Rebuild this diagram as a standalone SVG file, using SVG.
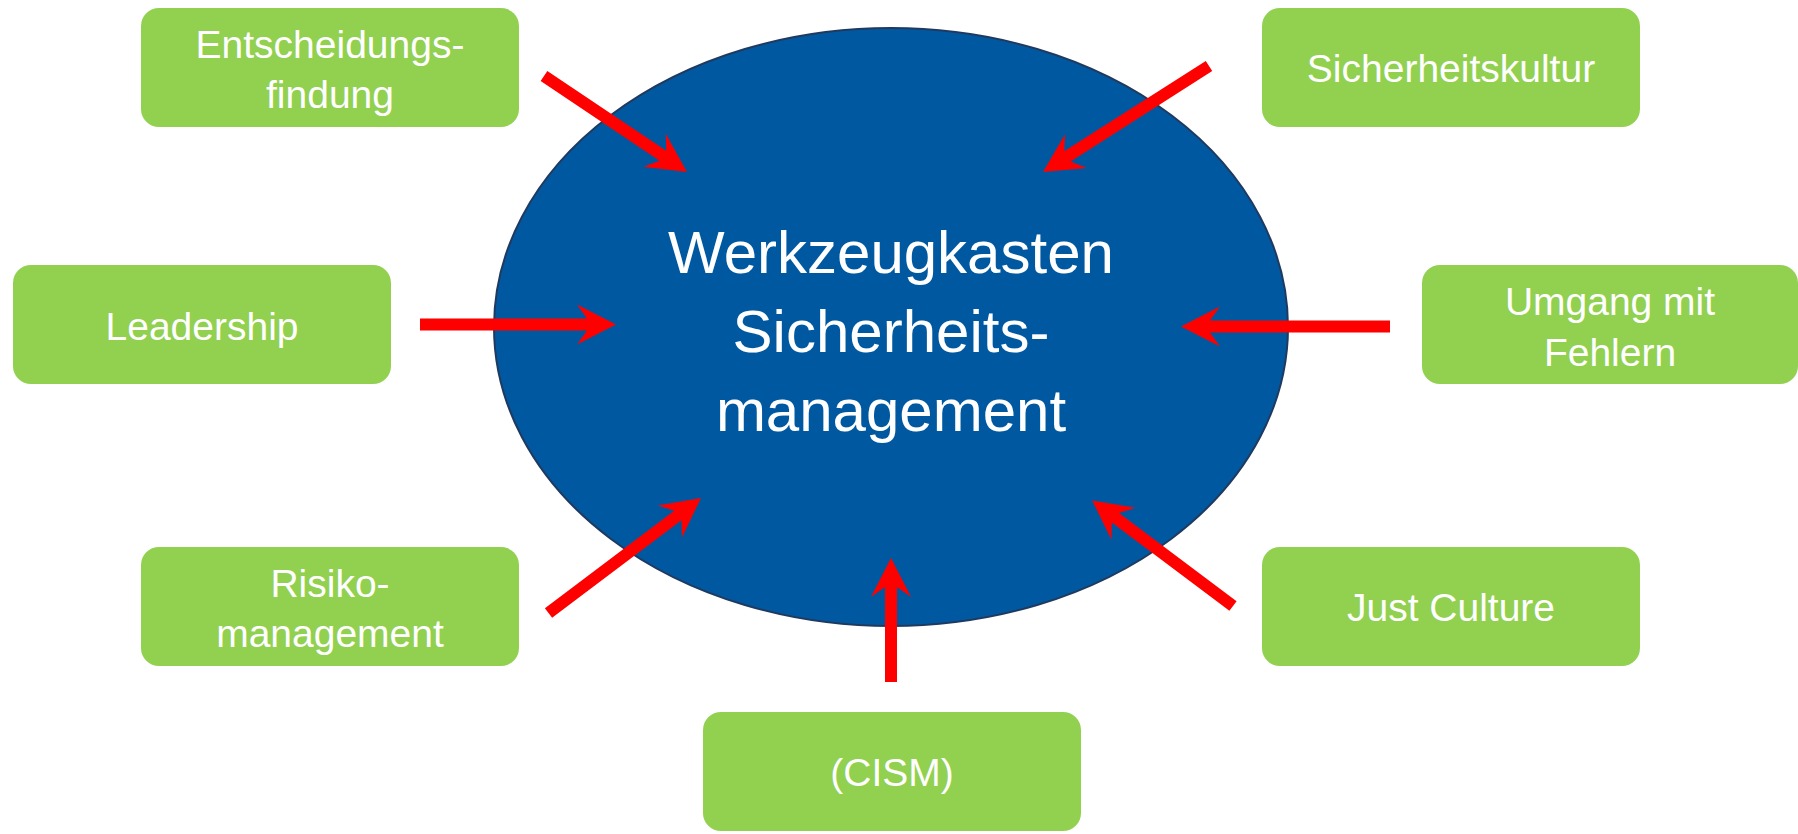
<svg xmlns="http://www.w3.org/2000/svg" width="1798" height="834" viewBox="0 0 1798 834">
<style>
.box{fill:#92D050}
.lbl{font-family:"Liberation Sans",Arial,sans-serif;font-size:39px;fill:#FFFFFF;text-anchor:middle}
.main{font-family:"Liberation Sans",Arial,sans-serif;font-size:60px;fill:#FFFFFF;text-anchor:middle}
.arr{fill:#FF0000}
</style>
<rect width="1798" height="834" fill="#FFFFFF"/>
<g id="center">
<ellipse cx="891" cy="327" rx="397" ry="299" fill="#0059A0" stroke="#1F3A60" stroke-width="2"/>
<text class="main" x="891" y="273">Werkzeugkasten</text>
<text class="main" x="891" y="352">Sicherheits-</text>
<text class="main" x="891" y="431">management</text>
</g>
<g id="n-entscheidung">
<rect class="box" x="141" y="8" width="378" height="119" rx="18"/>
<text class="lbl" x="330" y="58">Entscheidungs-</text>
<text class="lbl" x="330" y="108">findung</text>
</g>
<g id="n-sicherheitskultur">
<rect class="box" x="1262" y="8" width="378" height="119" rx="18"/>
<text class="lbl" x="1451" y="82">Sicherheitskultur</text>
</g>
<g id="n-leadership">
<rect class="box" x="13" y="265" width="378" height="119" rx="18"/>
<text class="lbl" x="202" y="340">Leadership</text>
</g>
<g id="n-umgang">
<rect class="box" x="1422" y="265" width="376" height="119" rx="18"/>
<text class="lbl" x="1610" y="315">Umgang mit</text>
<text class="lbl" x="1610" y="366">Fehlern</text>
</g>
<g id="n-risiko">
<rect class="box" x="141" y="547" width="378" height="119" rx="18"/>
<text class="lbl" x="330" y="597">Risiko-</text>
<text class="lbl" x="330" y="647">management</text>
</g>
<g id="n-justculture">
<rect class="box" x="1262" y="547" width="378" height="119" rx="18"/>
<text class="lbl" x="1451" y="621">Just Culture</text>
</g>
<g id="n-cism">
<rect class="box" x="703" y="712" width="378" height="119" rx="18"/>
<text class="lbl" x="892" y="786">(CISM)</text>
</g>
<g id="connectors">
<path class="arr" transform="translate(544,76) rotate(33.87)" d="M0,-6 H143.2 L133.2,-20 L172.2,0 L133.2,20 L143.2,6 H0 Z"/>
<path class="arr" transform="translate(1209,66) rotate(147.44)" d="M0,-6 H168 L158,-20 L197,0 L158,20 L168,6 H0 Z"/>
<path class="arr" transform="translate(420,324.5)" d="M0,-6 H167 L157,-20 L196,0 L157,20 L167,6 H0 Z"/>
<path class="arr" transform="translate(1390,326.5) rotate(180)" d="M0,-6 H180 L170,-20 L209,0 L170,20 L180,6 H0 Z"/>
<path class="arr" transform="translate(548.5,613) rotate(-37.02)" d="M0,-6 H162 L152,-20 L191,0 L152,20 L162,6 H0 Z"/>
<path class="arr" transform="translate(1233,606) rotate(-143.13)" d="M0,-6 H147 L137,-20 L176,0 L137,20 L147,6 H0 Z"/>
<path class="arr" transform="translate(891,682) rotate(-90)" d="M0,-6 H95 L85,-20 L124,0 L85,20 L95,6 H0 Z"/>
</g>
</svg>
